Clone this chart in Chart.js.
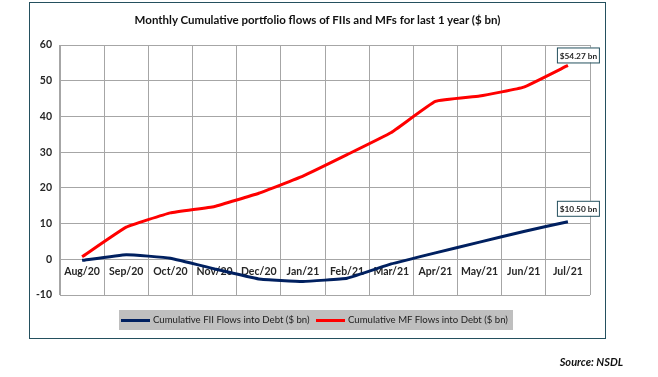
<!DOCTYPE html>
<html>
<head>
<meta charset="utf-8">
<script src="https://cdn.jsdelivr.net/npm/chart.js@4.4.1/dist/chart.umd.min.js"></script>
<style>
  html, body { margin: 0; padding: 0; background: #fff; }
  #wrap { position: relative; width: 658px; height: 377px; overflow: hidden; }
  #chart { position: absolute; left: 0; top: 0; }
  #frame { position: absolute; left: 29px; top: 2px; width: 575px; height: 335px;
    border: 1.5px solid #24505e; pointer-events: none; }
  #title { position: absolute; left: 29px; width: 577px; top: 13px; text-align: center;
    font: bold 11.5px Lato, "Noto Sans", sans-serif; color: #111; }
  #legend { position: absolute; left: 119px; top: 310px; width: 394px; height: 20px;
    background: #bfbfbf; font: 9.6px Lato, sans-serif; color: #222; white-space: nowrap; }
  #legend .sw { position: absolute; top: 9px; width: 29px; height: 3px; }
  #legend .tx { position: absolute; top: 4px; }
  #source { position: absolute; right: 35px; top: 355px;
    font: italic bold 11px Lato, sans-serif; color: #111; }
</style>
</head>
<body>
<div id="wrap">
  <canvas id="chart" width="658" height="377"></canvas>
  <div id="frame"></div>
  <div id="title">Monthly Cumulative portfolio flows of FIIs and MFs for last 1 year ($ bn)</div>
  <div id="legend">
    <span class="sw" style="left:2px;background:#002060"></span><span class="tx" style="left:34px">Cumulative FII Flows into Debt ($ bn)</span>
    <span class="sw" style="left:197px;background:#ff0000"></span><span class="tx" style="left:229px">Cumulative MF Flows into Debt ($ bn)</span>
  </div>
  <div id="source">Source: NSDL</div>
</div>
<script>
// monthly cumulative flows, $ bn
var months = ["Aug/20", "Sep/20", "Oct/20", "Nov/20", "Dec/20", "Jan/21",
              "Feb/21", "Mar/21", "Apr/21", "May/21", "Jun/21", "Jul/21"];
var fiiFlows = [-0.3, 1.3, 0.3, -2.7, -5.5, -6.2, -5.3, -1.3, 1.8, 4.8, 7.8, 10.5];
var mfFlows = [0.7, 9.0, 13.0, 14.8, 18.5, 23.3, 29.3, 35.5, 44.2, 45.7, 48.2, 54.27];
var endLabels = ["$10.50 bn", "$54.27 bn"];

var NAVY = "#002060", RED = "#ff0000", GRID = "#a6a6a6", INK = "#262626";

/* boxed value tag above the last point of each series */
var endTags = {
  id: "endTags",
  afterDatasetsDraw: function (chart) {
    var ctx = chart.ctx;
    var lift = [6, 3];
    chart.data.datasets.forEach(function (ds, i) {
      var meta = chart.getDatasetMeta(i);
      var pt = meta.data[meta.data.length - 1];
      var x = pt.x - 11, w = 42, h = 15;
      var y = pt.y - lift[i] - h;
      ctx.save();
      ctx.fillStyle = "#fff";
      ctx.fillRect(x, y, w, h);
      ctx.strokeStyle = "#24505e";
      ctx.lineWidth = 1;
      ctx.strokeRect(x + 0.5, y + 0.5, w, h);
      ctx.fillStyle = INK;
      ctx.font = "bold 8.3px Lato, sans-serif";
      ctx.textAlign = "center";
      ctx.textBaseline = "middle";
      ctx.fillText(endLabels[i], x + w / 2 + 0.5, y + h / 2 + 1);
      ctx.restore();
    });
  }
};

new Chart(document.getElementById("chart"), {
  type: "line",
  data: {
    labels: months,
    datasets: [
      { label: "Cumulative FII Flows into Debt ($ bn)", data: fiiFlows, borderColor: NAVY, backgroundColor: NAVY },
      { label: "Cumulative MF Flows into Debt ($ bn)", data: mfFlows, borderColor: RED, backgroundColor: RED }
    ]
  },
  options: {
    responsive: false,
    animation: false,
    layout: { padding: { left: 0, top: 45, right: 68, bottom: 82 } },
    elements: {
      line: { borderWidth: 3, tension: 0.1, borderCapStyle: "butt" },
      point: { radius: 0 }
    },
    plugins: { legend: { display: false }, tooltip: { enabled: false } },
    scales: {
      x: {
        position: { y: 0 },
        offset: true,
        grid: { color: GRID, offset: true, drawTicks: false },
        border: { display: false },
        ticks: { color: INK, font: { family: "Lato", size: 10.5, weight: "bold" }, padding: 6, maxRotation: 0, autoSkip: false }
      },
      y: {
        min: -10, max: 60,
        grid: { color: GRID, drawTicks: false },
        border: { color: GRID },
        afterFit: function (scale) { scale.width = 60; },
        ticks: { stepSize: 10, color: INK, font: { family: "Lato", size: 10.5, weight: "bold" }, padding: 8 }
      }
    }
  },
  plugins: [endTags]
});
</script>
</body>
</html>
